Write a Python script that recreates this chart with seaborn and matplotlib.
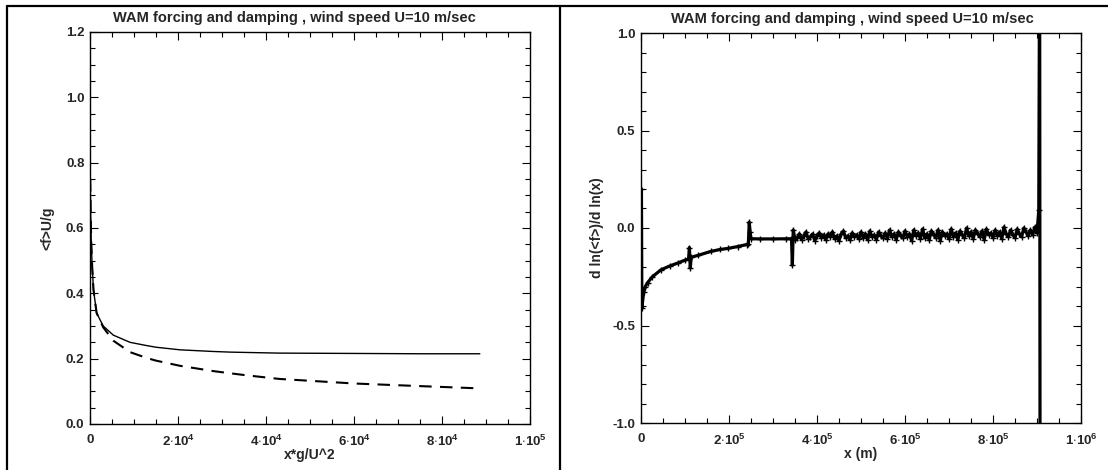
import numpy as np
import pandas as pd
import seaborn as sns
import matplotlib
matplotlib.use("Agg")
import matplotlib.pyplot as plt
from matplotlib.lines import Line2D
from matplotlib.ticker import MultipleLocator, FuncFormatter

# ---------------- data ----------------
title = "WAM forcing and damping , wind speed U=10 m/sec"

# left panel: nondimensional fetch vs <f>U/g
left_x = [60, 150, 300, 500, 800, 1500, 3000, 5300, 9100, 12900, 15000, 20500,
          28000, 32000, 35600, 43000, 60000, 75000, 88600]
left_solid = [0.75, 0.64, 0.55, 0.48, 0.41, 0.34, 0.300, 0.272, 0.250, 0.240,
              0.235, 0.227, 0.222, 0.220, 0.219, 0.217, 0.216, 0.215, 0.215]
left_dashed = [0.75, 0.64, 0.55, 0.48, 0.41, 0.34, 0.296, 0.255, 0.220, 0.202,
               0.194, 0.178, 0.162, 0.155, 0.149, 0.138, 0.124, 0.116, 0.109]

# right panel: x (km) vs d ln<f> / d ln x  -- smooth start with spikes
start_x_km = [1, 2, 6, 10, 15, 26, 45, 65, 83, 100, 108, 110, 112, 114, 130,
              159, 180, 197, 220, 240, 244, 246, 248, 250, 270, 300, 330, 342,
              344, 346, 350]
start_y = [0.20, -0.41, -0.33, -0.30, -0.28, -0.25, -0.215, -0.195, -0.18,
           -0.165, -0.16, -0.10, -0.205, -0.15, -0.14, -0.12, -0.11, -0.105,
           -0.095, -0.085, -0.08, 0.03, -0.02, -0.055, -0.056, -0.056, -0.055,
           -0.055, -0.19, -0.01, -0.06]

# noisy part
noisy_x_km = [355, 360, 365, 370, 375, 380, 385, 390, 395, 400,
              405, 410, 415, 420, 425, 430, 435, 440, 445, 450,
              455, 460, 465, 470, 475, 480, 485, 490, 495, 500,
              505, 510, 515, 520, 525, 530, 535, 540, 545, 550,
              555, 560, 565, 570, 575, 580, 585, 590, 595, 600,
              605, 610, 615, 620, 625, 630, 635, 640, 645, 650,
              655, 660, 665, 670, 675, 680, 685, 690, 695, 700,
              705, 710, 715, 720, 725, 730, 735, 740, 745, 750,
              755, 760, 765, 770, 775, 780, 785, 790, 795, 800,
              805, 810, 815, 820, 825, 830, 835, 840, 845, 850,
              855, 860, 865, 870, 875, 880, 885, 890, 895, 900]
noisy_y = [-0.05, -0.03, -0.06, -0.04, -0.02, -0.055, -0.045, -0.03, -0.065, -0.04,
           -0.025, -0.05, -0.035, -0.06, -0.03, -0.045, -0.02, -0.055, -0.04, -0.065,
           -0.03, -0.015, -0.05, -0.04, -0.06, -0.025, -0.045, -0.035, -0.055, -0.02,
           -0.05, -0.03, -0.06, -0.015, -0.045, -0.035, -0.06, -0.02, -0.04, -0.05,
           -0.025, -0.055, -0.01, -0.045, -0.03, -0.06, -0.02, -0.04, -0.05, -0.015,
           -0.045, -0.03, -0.065, -0.01, -0.04, -0.025, -0.055, -0.005, -0.05, -0.03,
           -0.06, -0.015, -0.035, -0.05, -0.01, -0.065, -0.02, -0.04, -0.03, -0.055,
           -0.005, -0.045, -0.025, -0.06, -0.015, -0.035, -0.05, 0.0, -0.04, -0.02,
           -0.055, -0.01, -0.03, -0.045, -0.015, -0.06, -0.005, -0.035, -0.025, -0.05,
           -0.01, -0.04, -0.02, -0.055, 0.005, -0.03, -0.045, -0.01, -0.035, -0.05,
           -0.005, -0.03, -0.045, 0.0, -0.02, -0.04, -0.01, -0.035, 0.005, -0.025]

# final blow-up near the end of the domain
end_x_km = [904, 906, 907]
end_y = [0.09, 1.5, -1.5]

# ---------------- style ----------------
sns.set_theme(style="ticks")
plt.rcParams["font.family"] = ["Liberation Sans", "DejaVu Sans"]
plt.rcParams["font.weight"] = "bold"
plt.rcParams["mathtext.fontset"] = "custom"
plt.rcParams["mathtext.rm"] = "Liberation Sans:bold"
plt.rcParams["mathtext.it"] = "Liberation Sans:bold"
plt.rcParams["mathtext.bf"] = "Liberation Sans:bold"
plt.rcParams["axes.linewidth"] = 1.0

fig = plt.figure(figsize=(11.08, 4.70), dpi=100)
W, H = 1108, 470


def ax_rect(x0, x1, y0, y1):
    return [x0 / W, 1 - y1 / H, (x1 - x0) / W, (y1 - y0) / H]


axL = fig.add_axes(ax_rect(90, 530, 32, 424))
axR = fig.add_axes(ax_rect(641, 1081, 33, 423))


def sci_fmt(v, pos):
    if v == 0:
        return "0"
    e = int(np.floor(np.log10(abs(v)) + 1e-9))
    m = v / 10 ** e
    return r"$%d{\cdot}10^{%d}$" % (round(m), e)


def style_axes(ax, xmaj, xmin, ymaj, ymin):
    ax.xaxis.set_major_locator(MultipleLocator(xmaj))
    ax.xaxis.set_minor_locator(MultipleLocator(xmin))
    ax.yaxis.set_major_locator(MultipleLocator(ymaj))
    ax.yaxis.set_minor_locator(MultipleLocator(ymin))
    ax.tick_params(which="both", direction="in", top=True, right=True,
                   color="black", width=0.8, labelsize=9.5)
    ax.tick_params(which="major", length=6)
    ax.tick_params(which="minor", length=3.5)
    ax.tick_params(axis="x", which="major", pad=7)
    ax.tick_params(axis="y", which="major", pad=4)
    for s in ax.spines.values():
        s.set_visible(True)
        s.set_color("black")
        s.set_linewidth(1.0)
    ax.set_facecolor("white")


# left panel
dfL = pd.DataFrame({"x": left_x, "solid": left_solid, "dashed": left_dashed})
sns.lineplot(data=dfL, x="x", y="solid", ax=axL, color="black", linewidth=1.0,
             sort=False, estimator=None)
sns.lineplot(data=dfL, x="x", y="dashed", ax=axL, color="black", linewidth=1.5,
             sort=False, estimator=None)
axL.lines[-1].set_dashes([6, 4])
axL.set_xlim(0, 100000)
axL.set_ylim(0, 1.2)
style_axes(axL, 20000, 5000, 0.2, 0.05)
axL.xaxis.set_major_formatter(FuncFormatter(sci_fmt))
axL.yaxis.set_major_formatter(FuncFormatter(lambda v, p: "%.1f" % v))
axL.set_xlabel("x*g/U^2", fontsize=10, fontweight="bold", labelpad=-1)
axL.set_ylabel("<f>U/g", fontsize=10, fontweight="bold", labelpad=8)
axL.set_title(title, fontsize=10.5, fontweight="bold", pad=7, x=0.465)

# right panel
right_x = np.array(start_x_km + noisy_x_km + end_x_km) * 1000.0
right_y = start_y + noisy_y + end_y
dfR = pd.DataFrame({"x": right_x, "y": right_y})
sns.lineplot(data=dfR, x="x", y="y", ax=axR, color="black", linewidth=2.3,
             sort=False, estimator=None, marker="+", markersize=4,
             markeredgewidth=1.0, markeredgecolor="black")
axR.set_xlim(0, 1000000)
axR.set_ylim(-1.0, 1.0)
style_axes(axR, 200000, 50000, 0.5, 0.1)
axR.xaxis.set_major_formatter(FuncFormatter(sci_fmt))
axR.yaxis.set_major_formatter(FuncFormatter(lambda v, p: "%.1f" % v))
axR.set_xlabel("x (m)", fontsize=10, fontweight="bold", labelpad=-1)
axR.set_ylabel("d ln(<f>)/d ln(x)", fontsize=10, fontweight="bold", labelpad=6)
axR.set_title(title, fontsize=10.5, fontweight="bold", pad=7, x=0.48)

for ax in (axL, axR):
    for lab in ax.get_xticklabels() + ax.get_yticklabels():
        lab.set_fontweight("bold")

# frame lines (table-like borders)
fig.add_artist(Line2D([7 / W, 1.0], [1 - 6 / H, 1 - 6 / H],
                      transform=fig.transFigure, color="black", lw=1.6))
fig.add_artist(Line2D([7 / W, 7 / W], [0, 1 - 6 / H],
                      transform=fig.transFigure, color="black", lw=1.6))
fig.add_artist(Line2D([560 / W, 560 / W], [0, 1 - 6 / H],
                      transform=fig.transFigure, color="black", lw=1.6))

fig.savefig("out.png", dpi=100, facecolor="white")
